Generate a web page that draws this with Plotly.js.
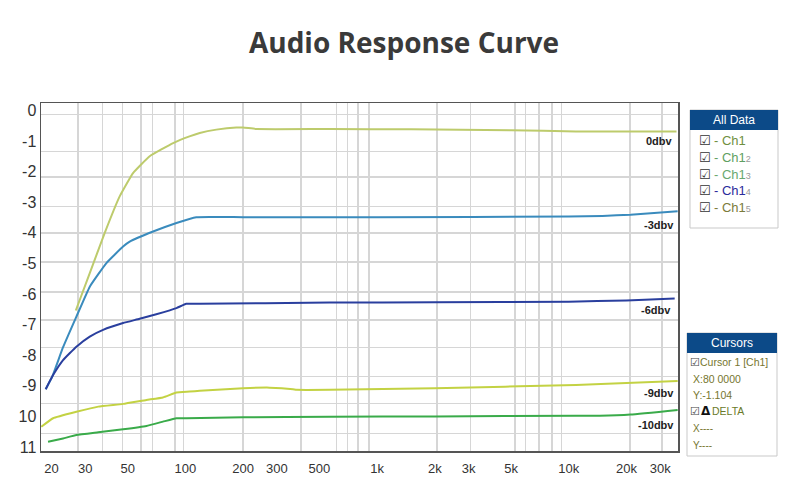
<!DOCTYPE html>
<html>
<head>
<meta charset="utf-8">
<script src="https://cdn.plot.ly/plotly-3.0.1.min.js"></script>
<style>
  html, body { margin: 0; padding: 0; background: #ffffff; }
  #chart { width: 800px; height: 497px; }
</style>
</head>
<body>
<div id="chart"></div>
<script>
// ---------------- DATA ----------------
// axis ticks
const freqTicks    = [20, 30, 50, 100, 200, 300, 500, 1000, 2000, 3000, 5000, 10000, 20000, 30000];
const freqTickText = ['20', '30', '50', '100', '200', '300', '500', '1k', '2k', '3k', '5k', '10k', '20k', '30k'];
const levelTicks    = [0, -1, -2, -3, -4, -5, -6, -7, -8, -9, -10, -11];
const levelTickText = ['0', '-1', '-2', '-3', '-4', '-5', '-6', '-7', '-8', '-9', '10', '11'];

// curve labels
const curveLabels = ['0dbv', '-3dbv', '-6dbv', '-9dbv', '-10dbv'];

// 0 dBV curve
const freq0  = [26.8, 31.7, 37.9, 45.4, 53.3, 65.1, 86.3, 105, 118.8, 145, 184.5, 200, 234.7, 566, 1500, 5000, 10900, 20000, 36500];
const level0 = [-6.54, -5.32, -4.01, -2.81, -2.05, -1.50, -1.07, -0.85, -0.74, -0.63, -0.56, -0.56, -0.61, -0.61, -0.62, -0.65, -0.69, -0.69, -0.69];

// -3 dBV curve
const freq3  = [18.67, 20.2, 23.0, 27.0, 31.7, 38.7, 47.3, 51.2, 67.8, 89.8, 114, 200, 1000, 10000, 15000, 21000, 37000];
const level3 = [-9.11, -8.70, -7.74, -6.74, -5.76, -4.99, -4.45, -4.29, -3.96, -3.68, -3.49, -3.49, -3.49, -3.47, -3.45, -3.41, -3.30];

// -6 dBV curve
const freq6  = [18.67, 20.4, 23.0, 27.0, 31.7, 37.2, 47.3, 57.7, 70.5, 89.8, 101, 118.8, 566, 2000, 10000, 20000, 35700];
const level6 = [-9.11, -8.65, -8.16, -7.72, -7.39, -7.17, -6.95, -6.81, -6.66, -6.46, -6.32, -6.32, -6.28, -6.27, -6.25, -6.21, -6.15];

// -9 dBV curve
const freq9  = [17.7, 20.4, 27.0, 35.1, 47.3, 62.6, 76.4, 89.8, 105.3, 118.8, 200, 275, 364, 380, 566, 2000, 10900, 20000, 37000];
const level9 = [-10.34, -10.06, -9.85, -9.68, -9.59, -9.46, -9.38, -9.22, -9.19, -9.16, -9.08, -9.06, -9.11, -9.13, -9.13, -9.08, -8.97, -8.91, -8.84];

// -10 dBV curve
const freq10  = [19.2, 23.0, 27.0, 35.1, 47.3, 62.6, 76.4, 89.8, 101, 200, 566, 2000, 10900, 14500, 21000, 37000];
const level10 = [-10.83, -10.72, -10.61, -10.52, -10.42, -10.31, -10.17, -10.06, -10.06, -10.03, -10.01, -10.00, -9.98, -9.98, -9.94, -9.79];

// legend panel entries
const legendNames = ['Ch1', 'Ch1', 'Ch1', 'Ch1', 'Ch1'];
const legendSubs  = ['', '2', '3', '4', '5'];

// cursor panel rows
const cursorLines = ['Cursor 1 [Ch1]', 'X:80 0000', 'Y:-1.104', 'DELTA', 'X----', 'Y----'];

// ---------------- STYLE / LAYOUT ----------------
const curveColors  = ['#bdcb6c', '#3a8bbd', '#2a3f9e', '#c3d243', '#3aab4a'];
const legendColors = ['#6f8f3f', '#5f9f62', '#69a86f', '#2b2b9b', '#7b7b3b'];

// irregular grid lines of the original
const xGrid = [27.5, 37, 47, 58.5, 67.5, 88.5, 98, 200, 400, 615, 700, 795, 905, 2050, 3070, 5250, 5950, 7000, 8200, 9150, 20900, 30600];
const yGrid = [-0.14, -1.34, -2.18, -3.14, -4.01, -4.96, -5.94, -6.85, -7.75, -8.7, -9.57, -10.55];

const L = 41, R = 678, T = 103, B = 451;
const px = x => (x - L) / (R - L);
const py = y => (B - y) / (B - T);

const series = [[freq0, level0], [freq3, level3], [freq6, level6], [freq9, level9], [freq10, level10]];

const traces = series.map((s, i) => ({
  type: 'scatter', mode: 'lines',
  x: s[0], y: s[1],
  name: curveLabels[i],
  line: { color: curveColors[i], width: 2, shape: 'spline', smoothing: 0.35 },
  hoverinfo: 'x+y'
}));

const annotations = [];
// curve labels near the right edge
series.forEach((s, i) => {
  const xs = s[0], ys = s[1];
  let k = 0, best = Infinity;
  xs.forEach((f, j) => { const d = Math.abs(Math.log10(f) - Math.log10(20000)); if (d < best) { best = d; k = j; } });
  annotations.push({
    xref: 'x', yref: 'y', x: Math.log10(xs[xs.length - 1]), y: ys[k],
    text: '<b>' + curveLabels[i] + '</b>', showarrow: false,
    xanchor: 'right', yanchor: 'middle', xshift: -2, yshift: -10,
    font: { family: 'Liberation Sans, Arial, sans-serif', size: 11, color: '#222' }
  });
});

const shapes = [];
function panel(x0, x1, y0, y1, hy) {
  shapes.push({ type: 'rect', xref: 'paper', yref: 'paper', x0: px(x0), x1: px(x1), y0: py(y1), y1: py(y0),
    line: { color: '#c9c9c9', width: 1 }, fillcolor: '#ffffff', layer: 'above' });
  shapes.push({ type: 'rect', xref: 'paper', yref: 'paper', x0: px(x0), x1: px(x1), y0: py(hy), y1: py(y0),
    line: { width: 0 }, fillcolor: '#0c4a88', layer: 'above' });
}
panel(690, 778, 110, 228, 130);
panel(687, 777, 333, 456, 353);

function txt(x, y, text, opts) {
  annotations.push(Object.assign({
    xref: 'paper', yref: 'paper', x: px(x), y: py(y), text: text, showarrow: false,
    xanchor: 'left', yanchor: 'middle',
    font: { family: 'Liberation Sans, Arial, sans-serif', size: 12, color: '#333' }
  }, opts || {}));
}
// All Data panel
txt(734, 120, 'All Data', { xanchor: 'center', font: { family: 'Liberation Sans, Arial, sans-serif', size: 12, color: '#ffffff' } });
const rowsY = [140, 157, 174, 190, 207];
legendNames.forEach((n, i) => {
  txt(697, rowsY[i], '☑', { font: { family: 'DejaVu Sans', size: 13, color: '#333' } });
  const sub = legendSubs[i] ? '<span style="font-size:9px;color:#999">' + legendSubs[i] + '</span>' : '';
  txt(712, rowsY[i], '- ' + n + sub, { font: { family: 'Liberation Sans, Arial, sans-serif', size: 13, color: legendColors[i] } });
});
// Cursors panel
txt(732, 343, 'Cursors', { xanchor: 'center', font: { family: 'Liberation Sans, Arial, sans-serif', size: 12, color: '#ffffff' } });
const cRowsY = [362, 379, 395, 411, 428, 445];
const olive = '#76762e';
txt(688, cRowsY[0], '☑', { font: { family: 'DejaVu Sans', size: 11, color: '#444' } });
txt(698, cRowsY[0], cursorLines[0], { font: { family: 'Liberation Sans, Arial, sans-serif', size: 10.5, color: olive } });
txt(691, cRowsY[1], cursorLines[1], { font: { family: 'Liberation Sans, Arial, sans-serif', size: 10.5, color: olive } });
txt(691, cRowsY[2], cursorLines[2], { font: { family: 'Liberation Sans, Arial, sans-serif', size: 10.5, color: olive } });
txt(688, cRowsY[3], '☑', { font: { family: 'DejaVu Sans', size: 11, color: '#444' } });
txt(699, cRowsY[3], '<b>Δ</b>', { font: { family: 'DejaVu Sans', size: 12, color: '#111' } });
txt(710, cRowsY[3], cursorLines[3], { font: { family: 'Liberation Sans, Arial, sans-serif', size: 10.5, color: '#6a7a2a' } });
txt(691, cRowsY[4], cursorLines[4], { font: { family: 'Liberation Sans, Arial, sans-serif', size: 10, color: olive } });
txt(691, cRowsY[5], cursorLines[5], { font: { family: 'Liberation Sans, Arial, sans-serif', size: 10, color: olive } });

const layout = {
  width: 800, height: 497,
  margin: { l: L, r: 800 - R, t: T, b: 497 - B, pad: 0 },
  paper_bgcolor: '#ffffff', plot_bgcolor: '#ffffff',
  showlegend: false,
  title: {
    text: '<b>Audio Response Curve</b>',
    xref: 'container', yref: 'container', x: 0.505, y: 1 - 43 / 497, xanchor: 'center', yanchor: 'middle',
    font: { family: 'Open Sans, sans-serif', size: 28, color: '#3a3a3a' }
  },
  xaxis: {
    type: 'log', range: [1.2466, 4.570], automargin: false,
    tickmode: 'array', tickvals: freqTicks, ticktext: freqTickText,
    showgrid: false, zeroline: false, ticks: '', ticklabelstandoff: 5,
    showline: true, mirror: true, linecolor: '#555', linewidth: 1.5,
    tickfont: { family: 'Liberation Sans, Arial, sans-serif', size: 13, color: '#333' },
    minor: { tickmode: 'array', tickvals: xGrid, showgrid: true, gridcolor: '#d6d6d6', gridwidth: 1.5, ticks: '' }
  },
  yaxis: {
    range: [-11.13, 0.24], automargin: false,
    tickmode: 'array', tickvals: levelTicks, ticktext: levelTickText,
    showgrid: false, zeroline: false, ticks: '',
    showline: true, mirror: true, linecolor: '#555', linewidth: 1.5,
    tickfont: { family: 'Liberation Sans, Arial, sans-serif', size: 16, color: '#333' },
    minor: { tickmode: 'array', tickvals: yGrid, showgrid: true, gridcolor: '#d6d6d6', gridwidth: 1.5, ticks: '' }
  },
  shapes: shapes,
  annotations: annotations
};

Plotly.newPlot('chart', traces, layout, { displayModeBar: false, staticPlot: true });
</script>
</body>
</html>
